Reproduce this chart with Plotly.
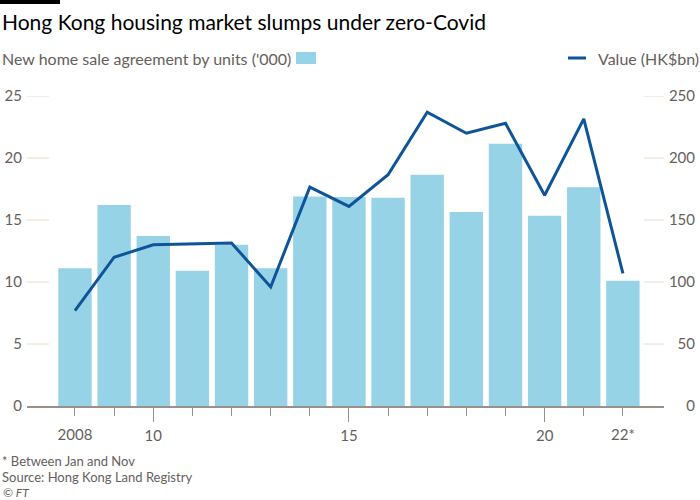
import plotly.graph_objects as go

years = list(range(2008, 2023))
units_k = [11.1, 16.2, 13.7, 10.9, 13.0, 11.1, 16.9, 16.85, 16.8, 18.65, 15.65, 21.15, 15.35, 17.65, 10.1]
value_hkbn = [77, 120, 130, 131, 131.5, 96, 176.5, 161, 186.5, 237, 220, 228, 170, 231.5, 107]

left_ticks = [0, 5, 10, 15, 20, 25]
right_ticks = [0, 50, 100, 150, 200, 250]
x_major = [2010, 2015, 2020]
x_major_text = ["10", "15", "20"]
x_end = [2008, 2022]
x_end_text = ["2008", "22*"]

W, H = 700, 500
L, R, T, B = 27, 0, 96, 94
PW = W - L - R
PH = H - T - B
def px(x):
    return (x - L) / PW
def py(y):
    return (H - B - y) / PH

FONT = "Lato"
GREY = "#66605c"
GRID = "#e9dccf"
BAR = "#96d3e6"
LINE = "#0f5499"
AX = "#999089"

fig = go.Figure()
fig.add_trace(go.Bar(x=years, y=units_k, marker=dict(color=BAR, line=dict(width=0)),
                     showlegend=False, hoverinfo="skip"))
fig.add_trace(go.Scatter(x=years, y=value_hkbn, yaxis="y2", mode="lines",
                         line=dict(color=LINE, width=3), showlegend=False))
# carrier (draws nothing) so the label-only axis x2 exists
fig.add_trace(go.Scatter(x=years, y=units_k, xaxis="x2", mode="none", showlegend=False,
                         hoverinfo="skip"))

xdom = [0, px(664)]
fig.update_layout(
    width=W, height=H,
    margin=dict(l=L, r=R, t=T, b=B, pad=0),
    paper_bgcolor="white", plot_bgcolor="white",
    bargap=0.147,
    font=dict(family=FONT, color=GREY, size=14),
    xaxis=dict(domain=xdom, range=[2006.774, 2023.05], tickmode="array",
               tickvals=x_major, ticktext=x_major_text, ticks="outside", ticklen=14,
               tickcolor=AX, tickwidth=1,
               minor=dict(tickmode="array", tickvals=years, ticks="outside", ticklen=8,
                          tickcolor=AX, tickwidth=1),
               showline=True, linecolor=AX, linewidth=1.5,
               showgrid=False, zeroline=False, ticklabelstandoff=1,
               tickfont=dict(size=15, color=GREY)),
    xaxis2=dict(domain=xdom, overlaying="x", matches="x", anchor="y", side="bottom",
                tickmode="array", tickvals=x_end, ticktext=x_end_text, ticks="",
                showline=False, showgrid=False, zeroline=False, ticklabelstandoff=18,
                tickfont=dict(size=15, color=GREY)),
    yaxis=dict(range=[0, 25], tickmode="array", tickvals=left_ticks, ticks="",
               showgrid=False, zeroline=False, showline=False, ticklabelstandoff=4,
               tickfont=dict(size=15, color=GREY)),
    yaxis2=dict(range=[0, 250], overlaying="y", anchor="free", position=1, side="left",
                tickmode="array", tickvals=right_ticks, ticks="", showgrid=False,
                zeroline=False, showline=False, ticklabelstandoff=5,
                tickfont=dict(size=15, color=GREY)),
)

shapes = []
for v in left_ticks[1:]:
    shapes.append(dict(type="line", xref="paper", yref="y", x0=px(27), x1=px(49), y0=v, y1=v,
                       line=dict(color=GRID, width=1), layer="below"))
for v in right_ticks[1:]:
    shapes.append(dict(type="line", xref="paper", yref="y2", x0=px(644), x1=px(664), y0=v, y1=v,
                       line=dict(color=GRID, width=1), layer="below"))
# FT black tab
shapes.append(dict(type="rect", xref="paper", yref="paper", x0=px(0), x1=px(60), y0=py(0), y1=py(4),
                   fillcolor="black", line=dict(width=0), layer="above"))
# legend swatches
shapes.append(dict(type="rect", xref="paper", yref="paper", x0=px(296), x1=px(316), y0=py(64), y1=py(52),
                   fillcolor=BAR, line=dict(width=0)))
shapes.append(dict(type="line", xref="paper", yref="paper", x0=px(568), x1=px(586), y0=py(58), y1=py(58),
                   line=dict(color=LINE, width=3)))
fig.update_layout(shapes=shapes)

ann = [
    dict(text="Hong Kong housing market slumps under zero-Covid", x=px(0), y=py(22),
         font=dict(size=21, color="#000000")),
    dict(text="New home sale agreement by units ('000)", x=px(0), y=py(58),
         font=dict(size=16, color=GREY)),
    dict(text="Value (HK$bn)", x=px(596), y=py(58), font=dict(size=16, color=GREY)),
    dict(text="* Between Jan and Nov", x=px(0), y=py(461), font=dict(size=13, color=GREY)),
    dict(text="Source: Hong Kong Land Registry", x=px(0), y=py(477), font=dict(size=13, color=GREY)),
    dict(text="<i>© FT</i>", x=px(1), y=py(492), font=dict(size=12, color=GREY)),
]
for a in ann:
    a.update(xref="paper", yref="paper", xanchor="left", yanchor="middle", showarrow=False)
fig.update_layout(annotations=ann)

fig.write_html("out.html", config={"displayModeBar": False},
               post_script="document.body.style.margin='0';")
